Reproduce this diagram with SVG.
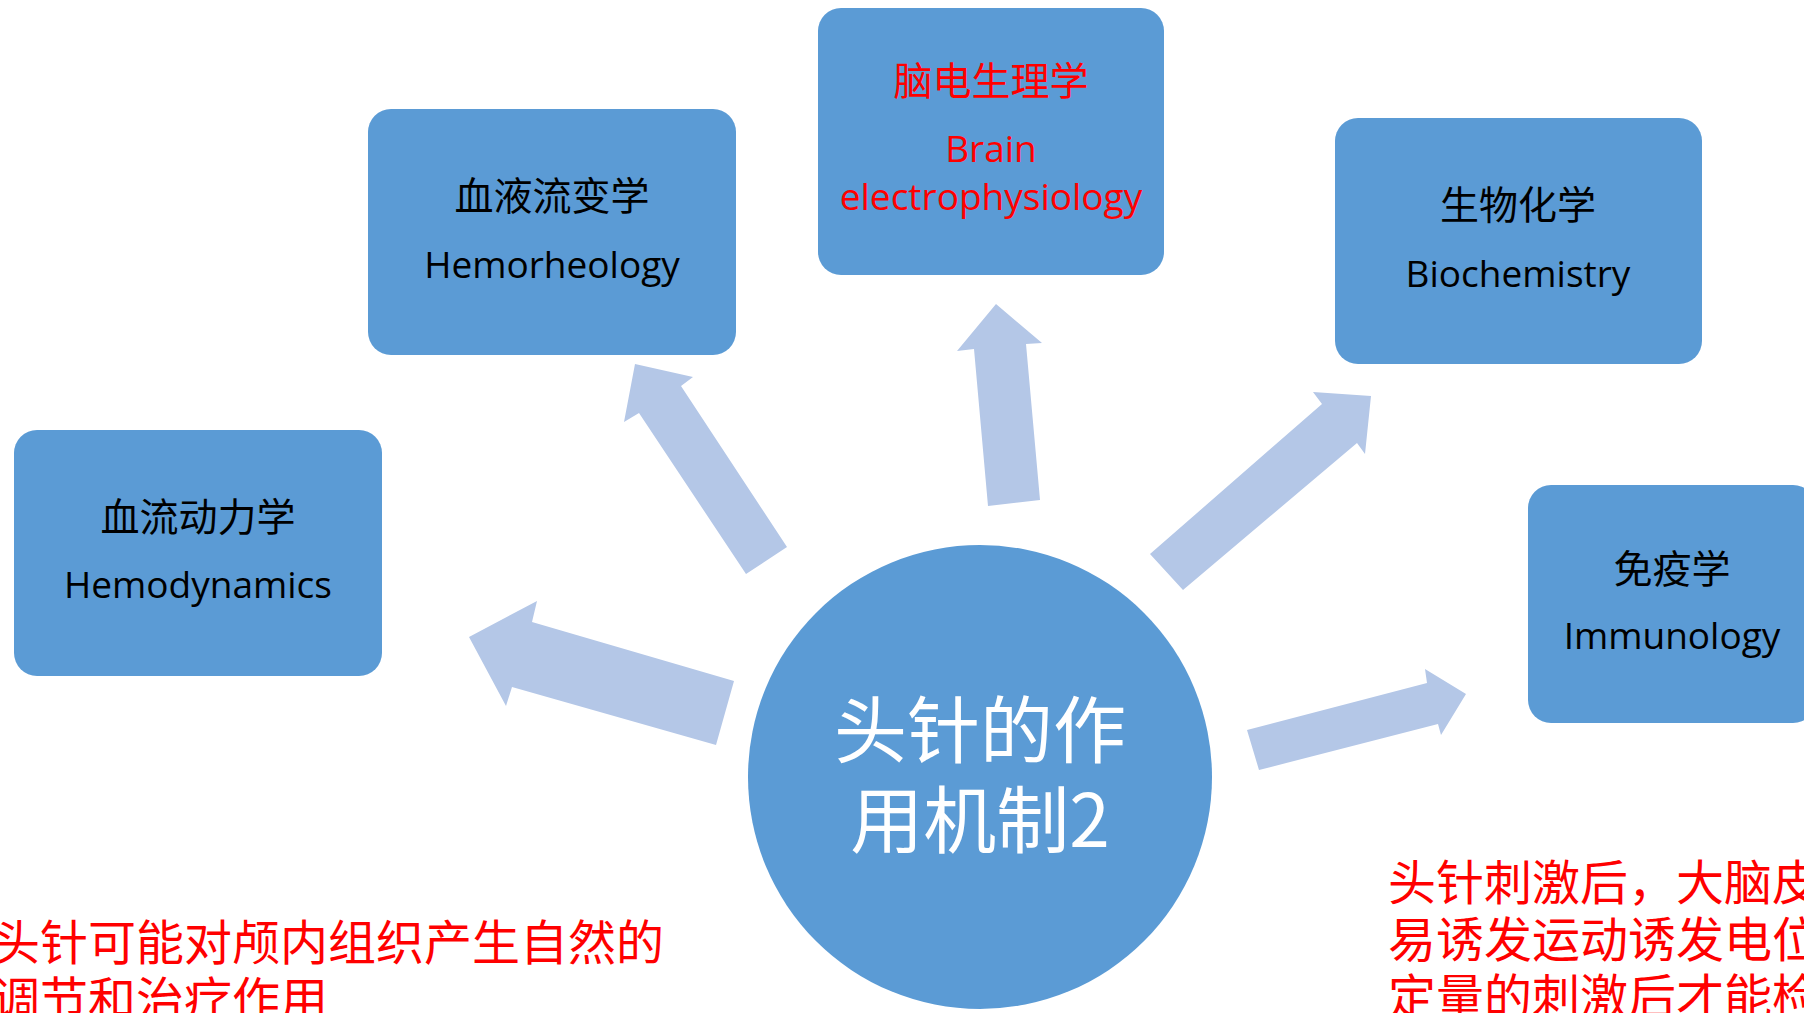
<svg xmlns="http://www.w3.org/2000/svg" width="1804" height="1013" viewBox="0 0 1804 1013">
<style>
.box{fill:#5B9BD5}
.arr{fill:#B4C7E7}
.cjk{font-family:"Noto Sans CJK SC","Noto Sans CJK JP",sans-serif;font-size:39px;text-anchor:middle;fill:#000}
.lat{font-family:"Open Sans","Noto Sans","Liberation Sans",sans-serif;font-size:37px;text-anchor:middle;fill:#000}
.red{fill:#FF0000}
.note{font-family:"Noto Sans CJK SC","Noto Sans CJK JP",sans-serif;font-size:48px;fill:#FF0000}
.center{font-family:"Noto Sans CJK SC","Noto Sans CJK JP",sans-serif;font-size:73px;text-anchor:middle;fill:#FFFFFF}
</style>
<rect width="1804" height="1013" fill="#FFFFFF"/>
<g id="connectors">
<polygon class="arr" points="469,637 537,601 532,622 734,681 716,745 512,687 506,706"/>
<polygon class="arr" points="635,364 693,377 681,386 787,547 746,574 639,413 624,422"/>
<polygon class="arr" points="996,304 1042,343 1026,344 1040,500 988,506 974,349 957,351"/>
<polygon class="arr" points="1371,396 1313,392 1322,404 1150,554 1183,590 1357,443 1365,454"/>
<polygon class="arr" points="1466,694 1425,669 1427,683 1247,730 1259,770 1438,724 1441,735"/>
</g>
<g id="node-center">
<circle cx="980" cy="777" r="232" class="box"/>
<text class="center" x="980" y="757">头针的作</text>
<text class="center" x="980" y="847">用机制2</text>
</g>
<g id="node-hemodynamics">
<rect class="box" x="14" y="430" width="368" height="246" rx="23" ry="23"/>
<text class="cjk" x="198" y="531">血流动力学</text>
<text class="lat" x="198" y="598">Hemodynamics</text>
</g>
<g id="node-hemorheology">
<rect class="box" x="368" y="109" width="368" height="246" rx="23" ry="23"/>
<text class="cjk" x="552" y="210">血液流变学</text>
<text class="lat" x="552" y="278">Hemorheology</text>
</g>
<g id="node-brain">
<rect class="box" x="818" y="8" width="346" height="267" rx="23" ry="23"/>
<text class="cjk red" x="991" y="95">脑电生理学</text>
<text class="lat red" x="991" y="162">Brain</text>
<text class="lat red" x="991" y="210">electrophysiology</text>
</g>
<g id="node-biochemistry">
<rect class="box" x="1335" y="118" width="367" height="246" rx="23" ry="23"/>
<text class="cjk" x="1518" y="219">生物化学</text>
<text class="lat" x="1518" y="287">Biochemistry</text>
</g>
<g id="node-immunology">
<rect class="box" x="1528" y="485" width="288" height="238" rx="23" ry="23"/>
<text class="cjk" x="1672" y="583">免疫学</text>
<text class="lat" x="1672" y="649">Immunology</text>
</g>
<g id="note-left">
<text class="note" x="-8" y="960">头针可能对颅内组织产生自然的</text>
<text class="note" x="-8" y="1017">调节和治疗作用</text>
</g>
<g id="note-right">
<text class="note" x="1388" y="900">头针刺激后，大脑皮</text>
<text class="note" x="1388" y="957">易诱发运动诱发电位</text>
<text class="note" x="1388" y="1014">定量的刺激后才能检</text>
</g>
</svg>
